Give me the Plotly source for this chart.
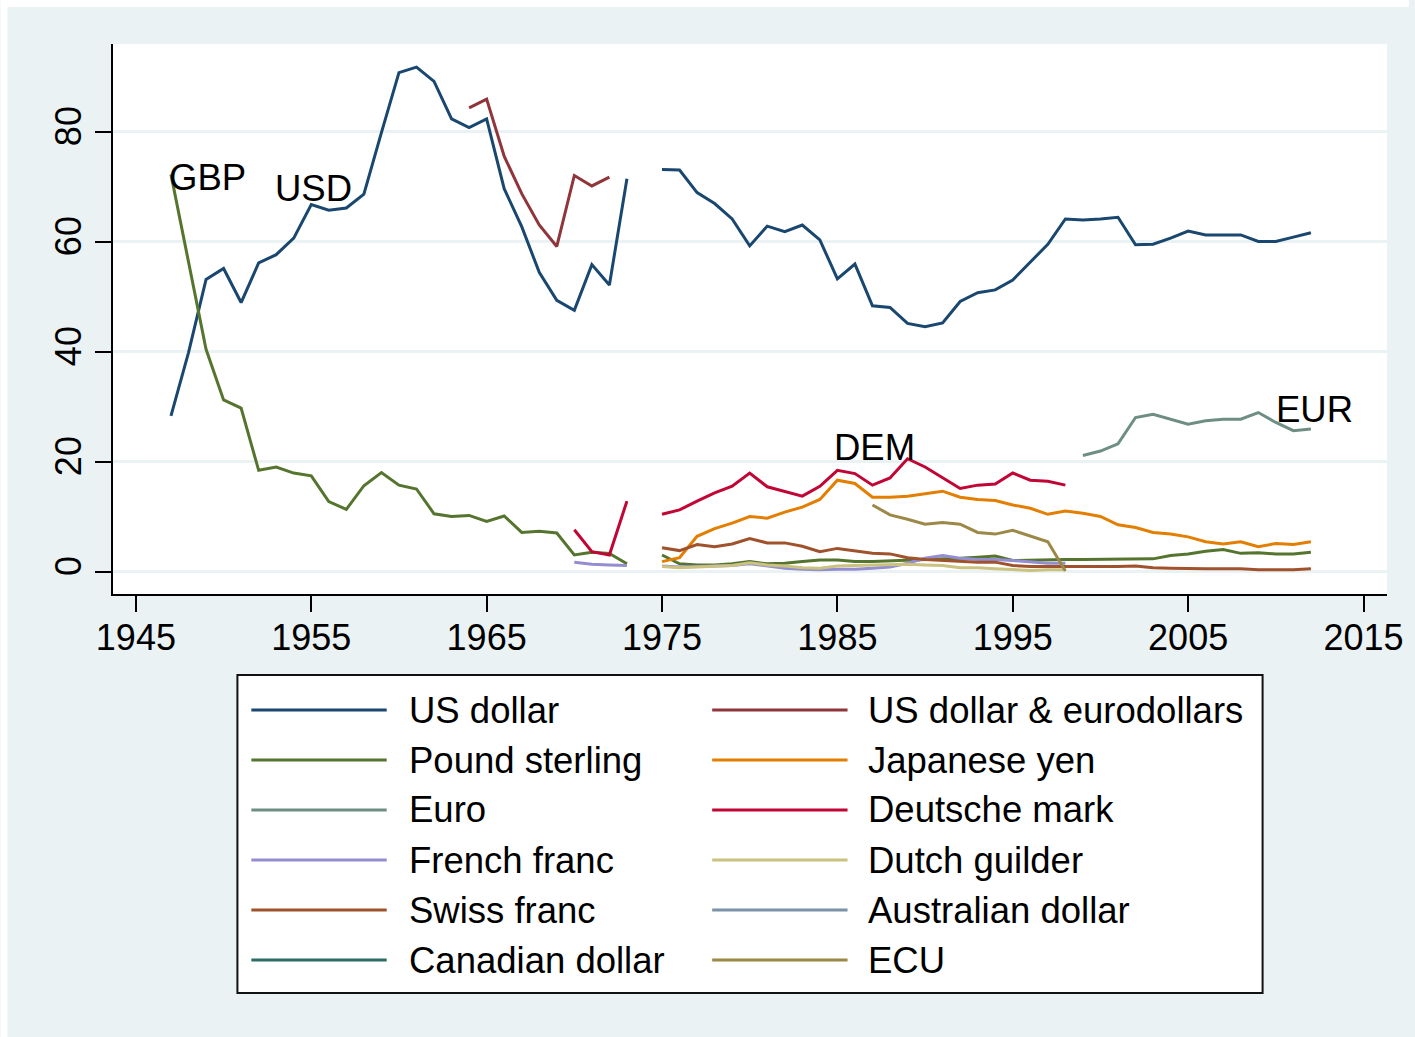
import plotly.graph_objects as go

# ---------------------------------------------------------------------------
# Currency shares (%), annual. Each series: first year + values (None = gap).
# ---------------------------------------------------------------------------
series_names = [
    "US dollar", "US dollar & eurodollars",
    "Pound sterling", "Japanese yen",
    "Euro", "Deutsche mark",
    "French franc", "Dutch guilder",
    "Swiss franc", "Australian dollar",
    "Canadian dollar", "ECU",
]

series_colors = [
    "#1A476F", "#90353B",
    "#55752F", "#E37E00",
    "#6E8E84", "#C10534",
    "#938DD2", "#CAC27E",
    "#A0522D", "#7B92A8",
    "#2D6D66", "#9C8847",
]

usd_start = 1947
usd_values = [
    28.3, 39.8, 53.1, 55.1, 48.9, 56.1, 57.6, 60.6, 66.7, 65.7,
    66.1, 68.6, 79.8, 90.7, 91.7, 89.1, 82.3, 80.7, 82.3, 69.6,
    62.7, 54.4, 49.3, 47.5, 55.8, 52.1, 71.4, None,
    73.1, 73.0, 68.9, 66.9, 64.1, 59.2, 62.8, 61.8, 63.0, 60.3,
    53.2, 55.9, 48.3, 48.0, 45.1, 44.5, 45.2, 49.1, 50.7, 51.2,
    53.0, 56.3, 59.5, 64.1, 63.9, 64.1, 64.4, 59.4, 59.5, 60.6,
    61.9, 61.2, 61.2, 61.2, 60.0, 60.0, 60.8, 61.6,
]

eurodollar_start = 1964
eurodollar_values = [84.3, 85.9, 75.5, 68.7, 63.0, 59.1, 72.0, 70.1, 71.7]

gbp_start = 1947
gbp_values = [
    72.2, 56.5, 40.4, 31.2, 29.7, 18.4, 19.0, 17.9, 17.4, 12.7,
    11.3, 15.6, 18.0, 15.7, 15.0, 10.5, 10.0, 10.2, 9.1, 10.1,
    7.1, 7.3, 7.0, 3.0, 3.5, 3.3, 1.4, None,
    3.0, 1.4, 1.2, 1.2, 1.4, 1.8, 1.4, 1.5, 1.8, 2.1,
    2.1, 1.8, 1.8, 1.9, 2.1, 2.1, 2.3, 2.4, 2.6, 2.8,
    2.0, 2.1, 2.2, 2.2, 2.2, 2.2, 2.2, 2.3, 2.3, 2.9,
    3.2, 3.7, 4.0, 3.3, 3.4, 3.2, 3.2, 3.5,
]

jpy_start = 1975
jpy_values = [
    1.8, 2.5, 6.4, 7.8, 8.8, 10.0, 9.7, 10.8, 11.7, 13.1,
    16.6, 16.0, 13.5, 13.5, 13.7, 14.2, 14.6, 13.5, 13.1, 12.9,
    12.1, 11.5, 10.4, 11.0, 10.6, 10.0, 8.5, 8.0, 7.1, 6.8,
    6.3, 5.4, 5.0, 5.4, 4.5, 5.1, 4.9, 5.4,
]

eur_start = 1999
eur_values = [21.1, 21.9, 23.2, 28.0, 28.6, 27.7, 26.8, 27.4, 27.7, 27.7,
              28.9, 27.1, 25.6, 25.9]

dem_start = 1970
dem_values = [
    7.6, 3.6, 3.0, 12.8, None,
    10.4, 11.2, 12.8, 14.3, 15.5, 17.9, 15.4, 14.6, 13.7, 15.5,
    18.4, 17.8, 15.7, 17.0, 20.5, 19.0, 17.1, 15.1, 15.7, 15.9,
    17.9, 16.6, 16.4, 15.7,
]

frf_start = 1970
frf_values = [
    1.7, 1.3, 1.2, 1.1, None,
    1.0, 0.8, 0.9, 1.0, 1.1, 1.4, 1.0, 0.6, 0.4, 0.3,
    0.4, 0.4, 0.6, 0.8, 1.5, 2.4, 2.9, 2.4, 2.2, 2.2,
    2.0, 1.7, 1.5, 1.5,
]

nlg_start = 1975
nlg_values = [
    0.9, 0.7, 0.8, 0.9, 1.1, 1.6, 1.2, 1.0, 0.7, 0.6,
    1.0, 1.1, 1.2, 1.3, 1.3, 1.2, 1.1, 0.7, 0.7, 0.5,
    0.3, 0.2, 0.3, 0.3,
]

chf_start = 1975
chf_values = [
    4.3, 3.8, 4.9, 4.5, 5.0, 6.0, 5.2, 5.2, 4.6, 3.6,
    4.2, 3.7, 3.3, 3.2, 2.5, 2.2, 2.0, 1.8, 1.7, 1.7,
    1.1, 0.9, 0.9, 0.9, 0.8, 0.9, 0.9, 1.0, 0.7, 0.6,
    0.5, 0.5, 0.5, 0.5, 0.3, 0.3, 0.3, 0.5,
]

aud_start = 1975
aud_values = []

cad_start = 1975
cad_values = []

ecu_start = 1987
ecu_values = [12.1, 10.3, 9.5, 8.6, 8.9, 8.6, 7.1, 6.8, 7.5, 6.5, 5.4, 0.1]

series_data = [
    (usd_start, usd_values), (eurodollar_start, eurodollar_values),
    (gbp_start, gbp_values), (jpy_start, jpy_values),
    (eur_start, eur_values), (dem_start, dem_values),
    (frf_start, frf_values), (nlg_start, nlg_values),
    (chf_start, chf_values), (aud_start, aud_values),
    (cad_start, cad_values), (ecu_start, ecu_values),
]

# In-plot series labels: (text, year, value)
label_text = ["GBP", "USD", "DEM", "EUR"]
label_year = [1946.75, 1952.8, 1984.7, 2009.9]
label_value = [71.7, 69.7, 22.6, 29.5]

x_ticks = [1945, 1955, 1965, 1975, 1985, 1995, 2005, 2015]
y_ticks = [0, 20, 40, 60, 80]

# ---------------------------------------------------------------------------
W, H = 1415, 1037
ML, MR, MT, MB = 113, 22, 44, 443
PW, PH = W - ML - MR, H - MT - MB
FONT = "Liberation Sans, Arial, sans-serif"
BG = "#EAF2F3"
FS = 36
FS_LEG = 36.5


def px_x(px):
    return (px - ML) / PW


def px_y(py):
    return (H - MB - py) / PH


fig = go.Figure()

for name, color, (start, vals) in zip(series_names, series_colors, series_data):
    fig.add_trace(go.Scatter(
        x=[start + i for i in range(len(vals))],
        y=vals,
        mode="lines",
        name=name,
        line=dict(color=color, width=3),
        connectgaps=False,
        showlegend=False,
    ))

for txt, yr, val in zip(label_text, label_year, label_value):
    fig.add_annotation(x=yr, y=val, text=txt, showarrow=False,
                       xanchor="left", yanchor="middle",
                       font=dict(family=FONT, size=FS_LEG, color="black"))

shapes = []
# white page edge at top and left of the shaded panel
shapes.append(dict(type="rect", xref="paper", yref="paper", layer="below",
                   x0=px_x(0), x1=px_x(W), y0=px_y(0), y1=px_y(7),
                   fillcolor="white", line=dict(width=0)))
shapes.append(dict(type="rect", xref="paper", yref="paper", layer="below",
                   x0=px_x(0), x1=px_x(7), y0=px_y(0), y1=px_y(H),
                   fillcolor="white", line=dict(width=0)))

# legend box, two columns
LB = (238, 675, 1268, 993)
shapes.append(dict(type="rect", xref="paper", yref="paper", layer="above",
                   x0=px_x(LB[0]), x1=px_x(LB[2]), y0=px_y(LB[3]), y1=px_y(LB[1]),
                   fillcolor="white", line=dict(color="#111111", width=2)))
col_line = [(252, 388), (715, 851)]
col_text = [408, 870]
row_y0, row_step = 710, 50
for i, (name, color) in enumerate(zip(series_names, series_colors)):
    r, c = divmod(i, 2)
    yy = row_y0 + r * row_step
    shapes.append(dict(type="line", xref="paper", yref="paper", layer="above",
                       x0=px_x(col_line[c][0]), x1=px_x(col_line[c][1]),
                       y0=px_y(yy), y1=px_y(yy),
                       line=dict(color=color, width=3)))
    fig.add_annotation(xref="paper", yref="paper", x=px_x(col_text[c]), y=px_y(yy),
                       text=name, showarrow=False, xanchor="left", yanchor="middle",
                       font=dict(family=FONT, size=FS_LEG, color="black"))

x0_year = 1945 - (136 - ML) / 17.62
x1_year = 1945 + (ML + PW - 136) / 17.62
y_lo = (571.5 - (H - MB)) / 5.5
y_hi = (571.5 - MT) / 5.5

fig.update_layout(
    width=W, height=H,
    margin=dict(l=ML, r=MR, t=MT, b=MB, pad=0),
    paper_bgcolor=BG,
    plot_bgcolor="white",
    font=dict(family=FONT, size=FS, color="black"),
    shapes=shapes,
    showlegend=False,
    xaxis=dict(
        range=[x0_year, x1_year], tickvals=x_ticks, showgrid=False, zeroline=False,
        showline=True, linecolor="black", linewidth=2,
        ticks="outside", ticklen=16, tickwidth=2, tickcolor="black",
        ticklabelstandoff=-5, ticklabeloverflow="allow",
        tickfont=dict(family=FONT, size=FS, color="black"),
    ),
    yaxis=dict(
        range=[y_lo, y_hi], tickvals=y_ticks, showgrid=True, gridcolor=BG, gridwidth=3,
        zeroline=False, showline=True, linecolor="black", linewidth=2,
        ticks="outside", ticklen=16, tickwidth=2, tickcolor="black",
        tickangle=-90,
        tickfont=dict(family=FONT, size=FS, color="black"),
    ),
)

fig.write_html("out.html")
